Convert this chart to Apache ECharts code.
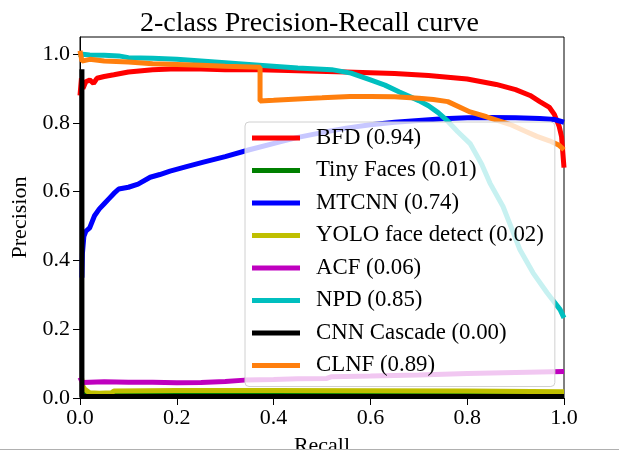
<!DOCTYPE html>
<html>
<head>
<meta charset="utf-8">
<script src="https://cdn.jsdelivr.net/npm/echarts@6/dist/echarts.min.js"></script>
<style>html,body{margin:0;padding:0;background:#fff;}#c{width:619px;height:453px;}</style>
</head>
<body>
<div id="c"></div>
<script>
const titleText = '2-class Precision-Recall curve';
const xTicks = [0, 0.2, 0.4, 0.6, 0.8, 1.0];
const yTicks = [0, 0.2, 0.4, 0.6, 0.8, 1.0];
const seriesNames = ['BFD (0.94)', 'Tiny Faces (0.01)', 'MTCNN (0.74)', 'YOLO face detect (0.02)', 'ACF (0.06)', 'NPD (0.85)', 'CNN Cascade (0.00)', 'CLNF (0.89)'];
const seriesColors = ['#ff0000', '#008000', '#0000ff', '#bfbf00', '#bf00bf', '#00bfbf', '#000000', '#ff7f0e'];

// [recall, precision]
const bfd = [[0,0.88],[0.003,0.93],[0.006,0.90],[0.012,0.92],[0.02,0.925],[0.028,0.915],[0.035,0.93],[0.05,0.935],[0.07,0.94],[0.1,0.948],[0.15,0.955],[0.2,0.958],[0.25,0.957],[0.3,0.955],[0.37,0.955],[0.45,0.952],[0.55,0.948],[0.65,0.944],[0.72,0.938],[0.8,0.928],[0.86,0.912],[0.9,0.897],[0.93,0.88],[0.95,0.862],[0.97,0.845],[0.98,0.825],[0.99,0.79],[0.995,0.76],[1.0,0.67]];
const tinyFaces = [[0.003,0.012],[0.07,0.011],[0.5,0.011],[1.0,0.011]];
const mtcnn = [[0.004,0.35],[0.005,0.42],[0.008,0.47],[0.012,0.485],[0.02,0.495],[0.03,0.53],[0.04,0.55],[0.05,0.565],[0.06,0.58],[0.07,0.595],[0.08,0.608],[0.1,0.613],[0.12,0.622],[0.145,0.642],[0.165,0.65],[0.186,0.66],[0.22,0.673],[0.255,0.686],[0.3,0.702],[0.35,0.722],[0.413,0.745],[0.45,0.758],[0.5,0.772],[0.55,0.785],[0.6,0.795],[0.65,0.802],[0.7,0.807],[0.75,0.812],[0.8,0.815],[0.85,0.816],[0.9,0.815],[0.95,0.813],[0.98,0.81],[1.0,0.802]];
const yolo = [[0.003,0.06],[0.006,0.035],[0.01,0.025],[0.02,0.015],[0.04,0.014],[0.065,0.015],[0.07,0.02],[0.2,0.022],[0.4,0.022],[0.6,0.021],[0.8,0.02],[1.0,0.018]];
const acf = [[0,0.06],[0.005,0.045],[0.05,0.047],[0.1,0.046],[0.15,0.046],[0.2,0.044],[0.25,0.045],[0.3,0.048],[0.34,0.052],[0.4,0.054],[0.45,0.056],[0.51,0.057],[0.52,0.062],[0.6,0.064],[0.7,0.067],[0.8,0.071],[0.9,0.074],[1.0,0.077]];
const npd = [[0,0.99],[0.005,1.0],[0.02,0.998],[0.05,0.997],[0.08,0.995],[0.1,0.99],[0.15,0.988],[0.2,0.985],[0.25,0.98],[0.3,0.975],[0.37,0.968],[0.45,0.96],[0.52,0.955],[0.56,0.945],[0.6,0.925],[0.63,0.91],[0.66,0.89],[0.7,0.865],[0.72,0.85],[0.74,0.83],[0.76,0.805],[0.78,0.775],[0.806,0.74],[0.83,0.68],[0.847,0.625],[0.874,0.557],[0.89,0.5],[0.909,0.431],[0.936,0.364],[0.965,0.306],[0.992,0.257],[1.0,0.233]];
const cnnCascade = [[0.004,0.956],[0.004,0.004],[1.0,0.004]];
const clnf = [[0,1.01],[0.004,0.98],[0.02,0.985],[0.05,0.98],[0.1,0.977],[0.15,0.972],[0.2,0.97],[0.25,0.968],[0.3,0.965],[0.372,0.962],[0.372,0.864],[0.4,0.866],[0.45,0.87],[0.5,0.873],[0.558,0.877],[0.6,0.877],[0.65,0.876],[0.7,0.872],[0.73,0.868],[0.76,0.862],[0.806,0.832],[0.84,0.818],[0.888,0.796],[0.92,0.776],[0.944,0.761],[0.97,0.748],[0.99,0.735],[1.0,0.722]];

const allData = [bfd, tinyFaces, mtcnn, yolo, acf, npd, cnnCascade, clnf];
const FONT = 'Liberation Serif';

const chart = echarts.init(document.getElementById('c'), null, {renderer: 'canvas'});
chart.setOption({
  animation: false,
  backgroundColor: '#fff',
  title: {
    text: titleText, left: 'center', top: 9, padding: 0,
    textStyle: {fontFamily: FONT, fontSize: 28, fontWeight: 'normal', color: '#000', lineHeight: 30}
  },
  grid: {left: 80, right: 55, top: 37, bottom: 55, show: true, borderColor: '#000', borderWidth: 1, backgroundColor: '#fff', outerBoundsMode: 'none', containLabel: false},
  xAxis: {
    type: 'value', min: 0, max: 1, interval: 0.2,
    name: 'Recall', nameLocation: 'middle', nameGap: 37,
    nameTextStyle: {fontFamily: FONT, fontSize: 22, color: '#000'},
    axisLine: {show: true, onZero: false, lineStyle: {color: '#000', width: 1}},
    axisTick: {show: true, inside: false, length: 7, lineStyle: {color: '#000'}, customValues: xTicks},
    axisLabel: {fontFamily: FONT, fontSize: 22, color: '#000', margin: 9, customValues: xTicks, formatter: v => v.toFixed(1)},
    splitLine: {show: false}
  },
  yAxis: {
    type: 'value', min: 0, max: 1.05,
    name: 'Precision', nameLocation: 'middle', nameGap: 45, nameRotate: 90,
    nameTextStyle: {fontFamily: FONT, fontSize: 22, color: '#000'},
    axisLine: {show: true, onZero: false, lineStyle: {color: '#000', width: 1}},
    axisTick: {show: true, inside: false, length: 7, lineStyle: {color: '#000'}, customValues: yTicks},
    axisLabel: {fontFamily: FONT, fontSize: 22, color: '#000', margin: 10, customValues: yTicks, formatter: v => v.toFixed(1)},
    splitLine: {show: false}
  },
  legend: {
    orient: 'vertical', left: 245, top: 122,
    padding: [4, 11, 9, 7],
    itemWidth: 48, itemHeight: 5, itemGap: 8.5,
    icon: 'rect',
    backgroundColor: 'rgba(255,255,255,0.78)',
    borderColor: '#d0d0d0', borderWidth: 1, borderRadius: 4,
    textStyle: {fontFamily: FONT, fontSize: 22.8, color: '#000', lineHeight: 24, padding: [0, 0, 0, 11]},
    data: seriesNames
  },
  series: seriesNames.map((n, i) => ({
    name: n, type: 'line', data: allData[i],
    showSymbol: false, symbol: 'none',
    lineStyle: {color: seriesColors[i], width: 5},
    itemStyle: {color: seriesColors[i]},
    clip: true
  })),
  graphic: [
    {type: 'rect', shape: {x: 0, y: 449, width: 619, height: 4}, style: {fill: '#fff'}, z: 100},
    {type: 'line', shape: {x1: 0, y1: 449.5, x2: 619, y2: 449.5}, style: {stroke: '#b0b0b0', lineWidth: 1}, z: 101}
  ]
});
</script>
</body>
</html>
